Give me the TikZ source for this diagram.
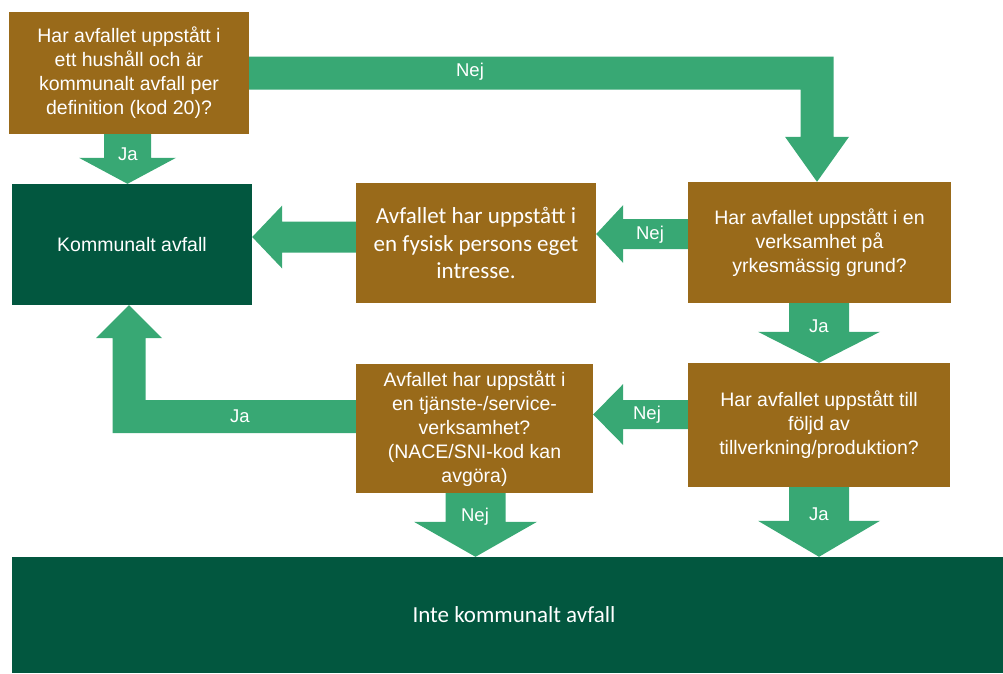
\documentclass[tikz,border=0pt]{standalone}
\usepackage{fontspec}
\setmainfont{Liberation Sans}
\newfontfamily\calib{Carlito}
\usetikzlibrary{calc}
\definecolor{brn}{HTML}{996A1A}
\definecolor{dkg}{HTML}{02573F}
\definecolor{arg}{HTML}{38A874}
\newcommand\downblock[5]{%
  \fill[blk] ($(#1)+(-#3,0)$) -- ($(#2)+(-#3,-#5)$) -- ($(#2)+(-#4,-#5)$) -- (#2)
    -- ($(#2)+(#4,-#5)$) -- ($(#2)+(#3,-#5)$) -- ($(#1)+(#3,0)$) -- cycle;}
\newcommand\leftblock[5]{%
  \fill[blk] ($(#1)+(0,-#3)$) -- ($(#2)+(#5,-#3)$) -- ($(#2)+(#5,-#4)$) -- (#2)
    -- ($(#2)+(#5,#4)$) -- ($(#2)+(#5,#3)$) -- ($(#1)+(0,#3)$) -- cycle;}
\begin{document}
\begin{tikzpicture}[x=1pt,y=-1pt,
  qbox/.style={fill=brn, text=white, align=center, inner sep=0pt,
    font=\fontsize{19.5}{24}\selectfont},
  gbox/.style={fill=dkg, text=white, align=center, inner sep=0pt},
  blk/.style={fill=arg},
  lbl/.style={text=white, font=\fontsize{18.5}{22}\selectfont, inner sep=0pt}]
\useasboundingbox (0,0) rectangle (1003,673);
% boxes
\node[qbox, minimum width=240, minimum height=122] (b1) at (129,73)
  {Har avfallet uppstått i\\ett hushåll och är\\kommunalt avfall per\\definition (kod 20)?};
\node[gbox, minimum width=240, minimum height=121, font=\fontsize{19.5}{24}\selectfont] (b2) at (132,244.5)
  {Kommunalt avfall};
\node[qbox, minimum width=240, minimum height=120, font=\calib\fontsize{23}{27.5}\selectfont] (b3) at (476,243)
  {Avfallet har uppstått i\\en fysisk persons eget\\intresse.};
\node[qbox, minimum width=263, minimum height=121] (b4) at (819.5,242.5)
  {Har avfallet uppstått i en\\verksamhet på\\yrkesmässig grund?};
\node[qbox, minimum width=262, minimum height=124] (b5) at (819,425)
  {Har avfallet uppstått till\\följd av\\tillverkning/produktion?};
\node[qbox, minimum width=237, minimum height=129] (b6) at (474.5,428.5)
  {Avfallet har uppstått i\\en tjänste-/service-\\verksamhet?\\(NACE/SNI-kod kan\\avgöra)};
\node[gbox, minimum width=991, minimum height=116] (b7) at (507.5,615) {};
\node[text=white, inner sep=0pt, font=\calib\fontsize{23}{27}\selectfont] (b7t) at (b7.center -| 514,0)
  {Inte kommunalt avfall};
% arrow 1: b1 -> b2 (Ja)
\coordinate (s1) at ($(b1.south)+(-1.5,0)$);
\coordinate (t1) at (s1 |- b2.north);
\downblock{s1}{t1}{23.5}{48.5}{26}
\node[lbl] (l1) at (128,154) {Ja};
% arrow 2: b1 -> b4 (Nej), bent
\coordinate (t2) at ($(b4.north)+(-2.5,0)$);
\coordinate (k2) at (t2 |- b1.east);
\fill[blk] ($(b1.east)+(0,-16.5)$) -- ($(k2)+(16.5,-16.5)$) -- ($(t2)+(16.5,-45)$)
  -- ($(t2)+(32,-45)$) -- (t2) -- ($(t2)+(-32,-45)$) -- ($(t2)+(-16.5,-45)$)
  -- ($(k2)+(-16.5,16.5)$) -- ($(b1.east)+(0,16.5)$) -- cycle;
\node[lbl] (l2) at (470,72) {Nej};
% arrow 3: b4 -> b3 (Nej)
\coordinate (s3) at ($(b4.west)+(0,-8.5)$);
\coordinate (t3) at (s3 -| b3.east);
\leftblock{s3}{t3}{15}{29}{27}
\node[lbl] (l3) at (650,235) {Nej};
% arrow 4: b3 -> b2
\coordinate (s4) at ($(b3.west)+(0,-6)$);
\coordinate (t4) at (s4 -| b2.east);
\leftblock{s4}{t4}{15.5}{31.5}{30}
% arrow 5: b4 -> b5 (Ja)
\coordinate (s5) at ($(b4.south)+(-0.5,0)$);
\coordinate (t5) at (s5 |- b5.north);
\downblock{s5}{t5}{30}{61}{31}
\node[lbl] (l5) at (819,326) {Ja};
% arrow 6: b5 -> b6 (Nej)
\coordinate (s6) at ($(b5.west)+(0,-10.5)$);
\coordinate (t6) at (s6 -| b6.east);
\leftblock{s6}{t6}{14.5}{30.5}{30}
\node[lbl] (l6) at (647,415) {Nej};
% arrow 7: b6 -> b2 (Ja), bent
\coordinate (s7) at ($(b6.west)+(0,-12)$);
\coordinate (t7) at ($(b2.south)+(-3,0)$);
\coordinate (k7) at (t7 |- s7);
\fill[blk] ($(s7)+(0,-16.5)$) -- ($(k7)+(16.5,-16.5)$) -- ($(t7)+(16.5,33)$)
  -- ($(t7)+(33,33)$) -- (t7) -- ($(t7)+(-33,33)$) -- ($(t7)+(-16.5,33)$)
  -- ($(k7)+(-16.5,16.5)$) -- ($(s7)+(0,16.5)$) -- cycle;
\node[lbl] (l7) at (240,416) {Ja};
% arrow 8: b6 -> b7 (Nej)
\coordinate (s8) at ($(b6.south)+(1,0)$);
\coordinate (t8) at (s8 |- b7.north);
\downblock{s8}{t8}{30}{61.5}{35}
\node[lbl] (l8) at (475,517) {Nej};
% arrow 9: b5 -> b7 (Ja)
\coordinate (s9) at (b5.south);
\coordinate (t9) at (s9 |- b7.north);
\downblock{s9}{t9}{30}{61}{36}
\node[lbl] (l9) at (819,514) {Ja};
\end{tikzpicture}
\end{document}
